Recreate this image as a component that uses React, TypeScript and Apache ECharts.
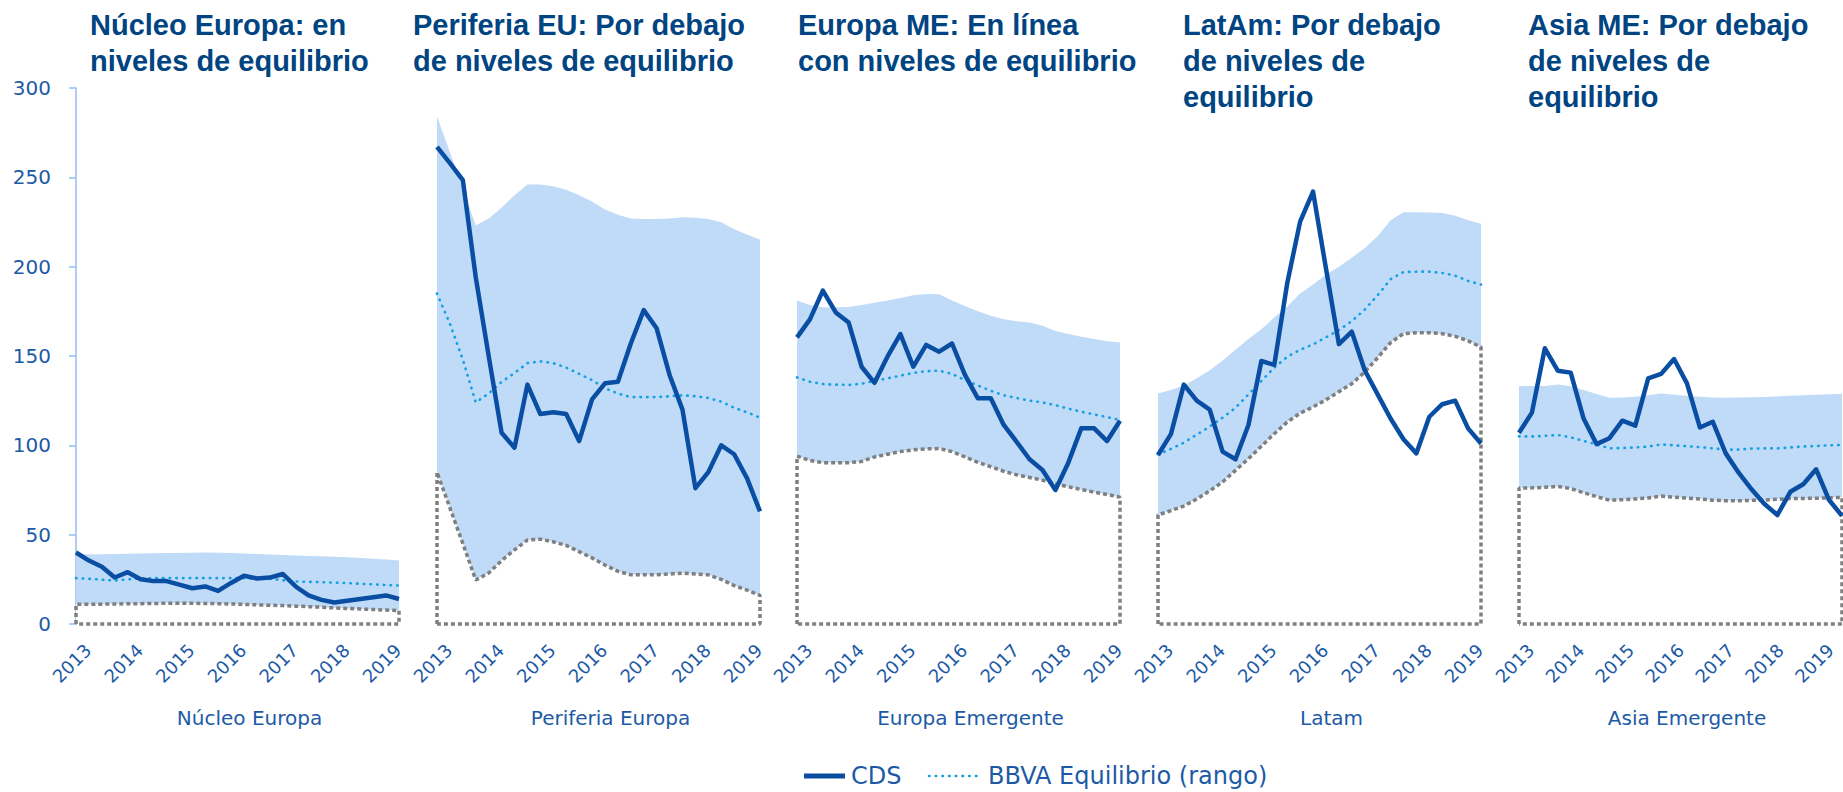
import React, { useEffect, useRef } from "react";
import * as echarts from "echarts";

// ---------- data ----------
const years = ["2013", "2014", "2015", "2016", "2017", "2018", "2019"];
const quarterCount = 26; // 2013T1 .. 2019T2
const quarterLabels = Array.from({ length: quarterCount }, (_, i) => years[Math.floor(i / 4)]);

const regionNames = ["Núcleo Europa", "Periferia Europa", "Europa Emergente", "Latam", "Asia Emergente"];
const panelTitles = [
  "Núcleo Europa: en\nniveles de equilibrio",
  "Periferia EU: Por debajo\nde niveles de equilibrio",
  "Europa ME: En línea\ncon niveles de equilibrio",
  "LatAm: Por debajo\nde niveles de\nequilibrio",
  "Asia ME: Por debajo\nde niveles de\nequilibrio",
];
const seriesNames = ["CDS", "BBVA Equilibrio (rango)"];

const yMin = 0;
const yMax = 300;
const yStep = 50;

const cds1 = [40, 35.5, 32, 26, 29, 25, 24, 24, 22, 20, 21, 18.5, 23, 27, 25.5, 26, 28, 21, 16, 13.5, 12, 13, 14, 15, 16, 14];
const upper1 = [39, 39, 39.1, 39.2, 39.3, 39.5, 39.6, 39.7, 39.8, 39.9, 40, 39.9, 39.8, 39.5, 39.2, 38.9, 38.6, 38.4, 38.1, 37.9, 37.6, 37.3, 37, 36.5, 36.1, 35.6];
const mid1 = [25.7, 25.3, 24.8, 24.3, 25, 25.5, 25.7, 25.7, 25.7, 25.7, 25.7, 25.7, 25.7, 25.6, 25.4, 25.3, 24.5, 23.8, 23.6, 23.4, 23.2, 22.9, 22.5, 22.2, 21.8, 21.5];
const lower1 = [11, 11, 11.1, 11.2, 11.3, 11.4, 11.5, 11.6, 11.6, 11.6, 11.5, 11.4, 11.2, 11, 10.7, 10.5, 10.3, 10, 9.7, 9.4, 9, 8.7, 8.4, 8.1, 7.8, 7.5];

const cds2 = [267, 258, 248.5, 194, 150, 107, 98.7, 134, 117.5, 118.5, 117.5, 102.4, 125.7, 134.7, 135.6, 157, 175.7, 165.5, 139.4, 120, 76, 85, 100, 95, 81.5, 63];
const upper2 = [284, 264, 244, 223, 227, 233, 240, 246, 246, 245, 243, 240, 236.5, 232, 229, 227, 226.7, 226.7, 227, 227.6, 227.4, 226.7, 224.8, 221, 218, 215];
const mid2 = [185, 168, 148, 124, 129, 135.5, 140.5, 146, 147, 146, 143.5, 140, 136.5, 132, 129, 127, 127, 127, 127.5, 128, 127.5, 126.5, 124.5, 121, 118.5, 115.5];
const lower2 = [85, 65, 45, 24.6, 28.5, 35.5, 41.5, 47, 47.5, 46, 44, 40.5, 37, 33, 29.5, 27.5, 27.5, 27.5, 28, 28.5, 28, 27.5, 25, 21.5, 19, 16];

const cds3 = [160.4, 170.5, 186.6, 174.4, 168.7, 144, 135, 149.6, 162.3, 144, 156.2, 152.4, 157, 139.4, 126.3, 126.3, 111.4, 102, 92.2, 86.2, 75, 90.3, 109.5, 109.5, 102.4, 113.8];
const upper3 = [181, 178.5, 177.3, 177.3, 177.4, 178.5, 179.8, 181, 182.5, 184, 184.7, 184.5, 181, 178, 175, 172.5, 170.5, 169.5, 168.7, 167, 164, 162.3, 160.8, 159.5, 158.3, 157.6];
const mid3 = [138, 135.6, 134.3, 134, 133.8, 134.5, 136, 137.5, 139, 140.5, 141.5, 141.8, 140, 136.5, 133.5, 130.5, 128, 126.5, 125, 124, 122.5, 120.5, 118.8, 117.3, 115.8, 114.2];
const lower3 = [94, 91.5, 90.3, 90.3, 90.3, 91, 93.5, 95, 96.5, 97.5, 98, 98.2, 96.5, 93.5, 90.5, 88, 85.5, 83.5, 82, 80.5, 78.5, 76.8, 75.3, 73.8, 72.5, 71];

const cds4 = [94.6, 106.3, 134, 125, 120, 96.5, 92.2, 111.4, 147.2, 145, 190.7, 225.2, 242, 199, 156.7, 163.6, 142, 128.5, 115, 103.4, 95.5, 116, 123, 125, 109.5, 101];
const upper4 = [129, 131, 133.5, 137.5, 142, 147.5, 153.5, 159.5, 165, 171.5, 177.5, 185, 190, 195.5, 200, 205, 210.5, 217, 226, 230.5, 230.5, 230.3, 230, 228.5, 226, 224];
const mid4 = [95, 98, 101.5, 106, 110.5, 115.5, 121, 128.5, 136, 143.5, 149.5, 153.5, 156.5, 160.5, 164.5, 169.5, 176, 184, 193, 197, 197.2, 197.2, 196.5, 195, 192, 190];
const lower4 = [61, 63.5, 66, 70, 74.5, 79.5, 86, 92.5, 99.5, 106.5, 113, 118, 121.5, 125.5, 130, 134.5, 141, 149, 157.5, 162.5, 163, 163, 162.5, 161, 158.5, 155];

const cds5 = [107, 118.3, 154.3, 141.8, 140.7, 115, 100.7, 104, 113.8, 111, 137.5, 140, 148.3, 134.7, 110, 113.2, 95.5, 84.7, 75.4, 67.2, 61, 74, 78.2, 86.6, 69.4, 60.6];
const upper5 = [133.2, 133.2, 133.2, 134, 133, 131, 128.7, 126.7, 126.8, 127.2, 128, 129, 128.3, 127.7, 127.2, 126.8, 126.7, 126.8, 126.9, 127.1, 127.4, 127.7, 128, 128.3, 128.6, 128.9];
const mid5 = [105, 105, 105.3, 105.8, 104.5, 102.5, 100.5, 98.3, 98.5, 98.8, 99.3, 100.5, 100, 99.5, 99, 98.3, 97.6, 97.6, 98.2, 98.3, 98.3, 98.8, 99.4, 99.6, 100, 100.2];
const lower5 = [76, 76.2, 76.5, 77, 75.8, 73.5, 71.3, 69.3, 69.6, 70, 70.5, 71.6, 71, 70.5, 70, 69.3, 69, 69, 69.2, 69.4, 69.8, 70.2, 70.3, 70.4, 70.6, 70.9];

const panelData = [
  { cds: cds1, upper: upper1, mid: mid1, lower: lower1 },
  { cds: cds2, upper: upper2, mid: mid2, lower: lower2 },
  { cds: cds3, upper: upper3, mid: mid3, lower: lower3 },
  { cds: cds4, upper: upper4, mid: mid4, lower: lower4 },
  { cds: cds5, upper: upper5, mid: mid5, lower: lower5 },
];

// ---------- layout / style ----------
const W = 1843;
const H = 792;
const panelLeft = [76, 437, 797, 1158, 1519];
const panelWidth = 323;
const plotTop = 88;
const plotBottom = 624;
const labelShift = 12;
const titleLeft = [90, 413, 798, 1183, 1528];
const legendY = 776;

const C_TITLE = "#004481";
const C_TEXT = "#1d5aa6";
const C_CDS = "#0a4ea3";
const C_MID = "#16a0e4";
const C_BAND = "#c0dbf8";
const C_GREY = "#7f7f7f";
const C_AXIS = "#92bdef";
const FONT = "DejaVu Sans";

const MID_DASH = [0.5, 6.2];

function buildOption() {
  const grids: any[] = [];
  const xAxes: any[] = [];
  const yAxes: any[] = [];
  const series: any[] = [];
  const n = panelData.length;

  panelData.forEach((pd, p) => {
    grids.push({ left: panelLeft[p], width: panelWidth, top: plotTop, height: plotBottom - plotTop });
    xAxes.push({ gridIndex: p, type: "value", min: 0, max: quarterCount - 1, show: false });
    yAxes.push({
      gridIndex: p,
      type: "value",
      min: yMin,
      max: yMax,
      interval: yStep,
      show: p === 0,
      offset: 7,
      axisLine: { show: true, lineStyle: { color: C_AXIS, width: 1.5 } },
      axisTick: { show: true, length: 7, lineStyle: { color: C_AXIS, width: 1.5 } },
      axisLabel: { margin: 18, color: C_TEXT, fontSize: 20, fontFamily: FONT },
      splitLine: { show: false },
    });

    const pairs = (arr: number[]) => arr.map((v, i) => [i, v]);

    // band: upper area in light blue, then the area under the lower bound in white
    series.push({
      type: "line",
      name: "upper" + p,
      xAxisIndex: p,
      yAxisIndex: p,
      data: pairs(pd.upper),
      symbol: "none",
      lineStyle: { width: 0, opacity: 0 },
      areaStyle: { color: C_BAND, opacity: 1 },
      silent: true,
      z: 1,
    });
    series.push({
      type: "line",
      name: "lower" + p,
      xAxisIndex: p,
      yAxisIndex: p,
      data: pairs(pd.lower),
      symbol: "none",
      lineStyle: { width: 0, opacity: 0 },
      areaStyle: { color: "#ffffff", opacity: 1 },
      silent: true,
      z: 1,
    });
    series.push({
      type: "line",
      name: "outline" + p,
      xAxisIndex: p,
      yAxisIndex: p,
      data: [[0, 0], ...pairs(pd.lower), [quarterCount - 1, 0], [0, 0]],
      symbol: "none",
      clip: false,
      lineStyle: { color: C_GREY, width: 3.5, type: [4, 3] },
      silent: true,
      z: 2,
    });
    series.push({
      type: "line",
      name: seriesNames[1],
      xAxisIndex: p,
      yAxisIndex: p,
      data: pairs(pd.mid),
      symbol: "none",
      clip: false,
      lineStyle: { color: C_MID, width: 2.6, type: MID_DASH, cap: "round" },
      silent: true,
      z: 3,
    });
    series.push({
      type: "line",
      name: seriesNames[0],
      xAxisIndex: p,
      yAxisIndex: p,
      data: pairs(pd.cds),
      symbol: "none",
      clip: false,
      lineStyle: { color: C_CDS, width: 4.5, join: "round" },
      silent: true,
      z: 4,
    });
  });

  // label-only grids (category axis labels + region names)
  panelData.forEach((_, p) => {
    const gi = n + p;
    grids.push({ left: panelLeft[p] + labelShift, width: panelWidth, top: plotTop, height: plotBottom - plotTop });
    xAxes.push({
      gridIndex: gi,
      type: "category",
      data: quarterLabels,
      boundaryGap: false,
      axisLine: { show: false },
      axisTick: { show: false },
      axisLabel: { interval: 3, rotate: 45, margin: 23, fontSize: 18, color: C_TEXT, fontFamily: FONT },
      name: regionNames[p],
      nameLocation: "middle",
      nameGap: 84,
      nameTextStyle: { fontSize: 20, color: C_TEXT, fontFamily: FONT },
    });
    yAxes.push({ gridIndex: gi, type: "value", min: yMin, max: yMax, show: false });
  });

  const legendGraphic = [
    {
      type: "line",
      shape: { x1: 804, y1: legendY, x2: 845, y2: legendY },
      style: { stroke: C_CDS, lineWidth: 5 },
      silent: true,
    },
    {
      type: "text",
      x: 851,
      y: legendY,
      style: { text: seriesNames[0], fill: C_TEXT, font: `24px "${FONT}"`, textVerticalAlign: "middle", verticalAlign: "middle" },
      silent: true,
    },
    {
      type: "line",
      shape: { x1: 929, y1: legendY, x2: 980, y2: legendY },
      style: { stroke: C_MID, lineWidth: 2.6, lineDash: MID_DASH, lineCap: "round" },
      silent: true,
    },
    {
      type: "text",
      x: 988,
      y: legendY,
      style: { text: seriesNames[1], fill: C_TEXT, font: `24px "${FONT}"`, textVerticalAlign: "middle", verticalAlign: "middle" },
      silent: true,
    },
  ];

  return {
    animation: false,
    backgroundColor: "#ffffff",
    title: panelTitles.map((t, p) => ({
      text: t,
      left: titleLeft[p],
      top: 7,
      padding: 0,
      textStyle: {
        fontSize: 29,
        fontWeight: "bold",
        fontFamily: "Liberation Sans",
        color: C_TITLE,
        lineHeight: 36,
      },
    })),
    graphic: legendGraphic,
    grid: grids,
    xAxis: xAxes,
    yAxis: yAxes,
    series,
  };
}

export default function App() {
  const ref = useRef<HTMLDivElement>(null);
  useEffect(() => {
    if (!ref.current) return;
    const chart = echarts.init(ref.current, undefined, { renderer: "svg" });
    chart.setOption(buildOption() as any);
    return () => chart.dispose();
  }, []);
  return (
    <div
      ref={ref}
      style={{ position: "fixed", left: 0, top: 0, width: W, height: H, background: "#ffffff" }}
    />
  );
}
